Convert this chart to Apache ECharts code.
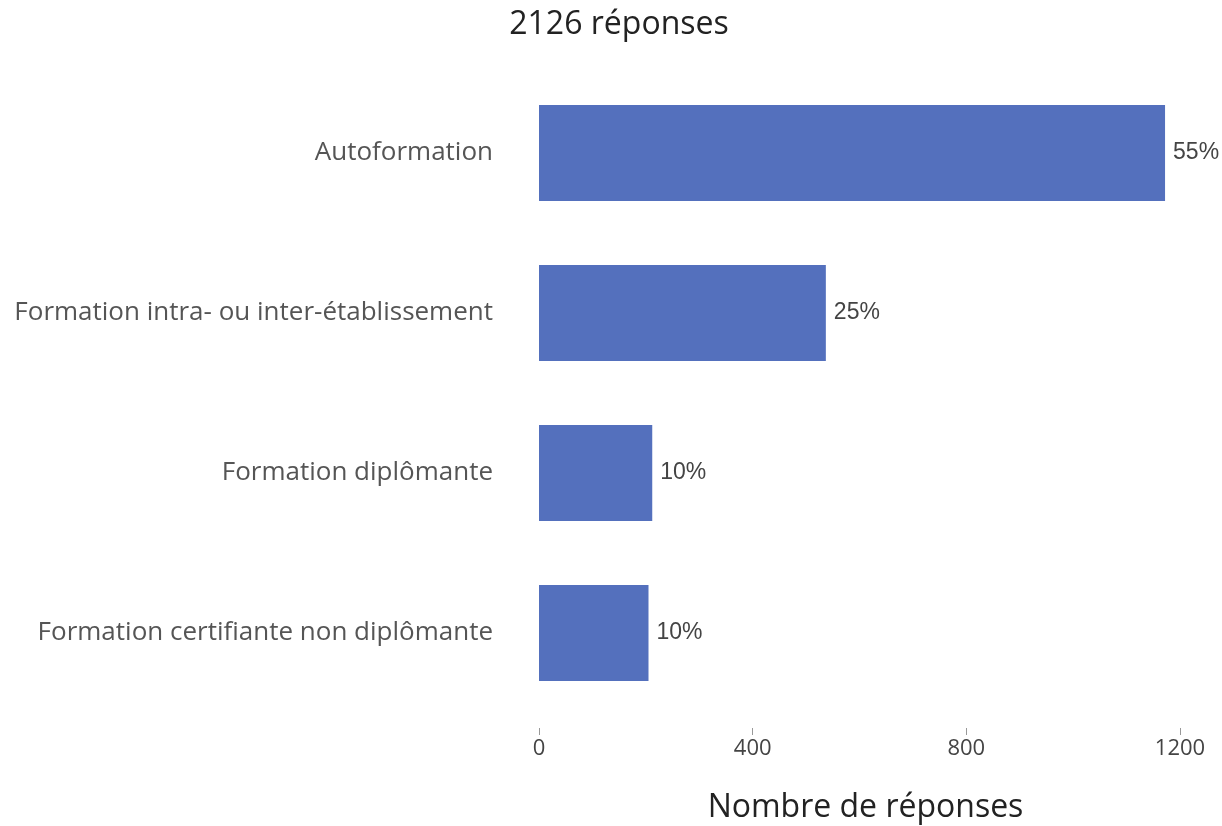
<!DOCTYPE html>
<html>
<head>
<meta charset="utf-8">
<script src="https://cdn.jsdelivr.net/npm/echarts@6/dist/echarts.min.js"></script>
<style>
  html, body { margin: 0; padding: 0; background: #fff; }
  #graf { width: 1222px; height: 826px; }
</style>
</head>
<body>
<div id="graf"></div>
<script>
// Donnees
var categories = ['Formation certifiante non diplômante', 'Formation diplômante', 'Formation intra- ou inter-établissement', 'Autoformation'];
var valeurs = [205, 212, 537, 1172];
var pourcentages = ['10%', '10%', '25%', '55%'];
var ticksX = [0, 400, 800, 1200];

var grafico = echarts.init(document.getElementById('graf'));

var dados = [];
for (var i = 0; i < valeurs.length; i++) {
  dados.push({ value: valeurs[i], label: { formatter: pourcentages[i] } });
}

var opcoes = {
  backgroundColor: '#fff',
  animation: false,
  title: {
    text: '2126 réponses',
    left: 614,
    top: 4,
    textAlign: 'center',
    textStyle: { fontFamily: 'Open Sans', fontSize: 32, fontWeight: 'normal', color: '#222' }
  },
  grid: { left: 539, right: 42, top: 73, bottom: 113, outerBoundsMode: 'none' },
  xAxis: {
    type: 'value',
    min: ticksX[0],
    max: ticksX[ticksX.length - 1],
    interval: 400,
    offset: 15,
    name: 'Nombre de réponses',
    nameLocation: 'middle',
    nameGap: 64,
    nameTextStyle: { fontFamily: 'Open Sans', fontSize: 32, color: '#222', padding: [0, 0, 0, 12] },
    axisLine: { show: false },
    axisTick: { show: true, length: 7, lineStyle: { color: '#999' } },
    splitLine: { show: false },
    axisLabel: {
      fontFamily: 'Open Sans', fontSize: 22, color: '#444', margin: 10,
      formatter: function (v) { return String(v); }
    }
  },
  yAxis: {
    type: 'category',
    data: categories,
    axisLine: { show: false },
    axisTick: { show: false },
    axisLabel: { fontFamily: 'Open Sans', fontSize: 26, color: '#555', margin: 46, padding: [8, 0, 0, 0] }
  },
  series: [{
    type: 'bar',
    data: dados,
    barWidth: '60%',
    itemStyle: { color: '#5470bd' },
    label: {
      show: true,
      position: 'right',
      distance: 8,
      fontFamily: 'Liberation Sans',
      fontSize: 23,
      color: '#444',
      padding: [8, 0, 0, 0]
    }
  }]
};

grafico.setOption(opcoes);
</script>
</body>
</html>
